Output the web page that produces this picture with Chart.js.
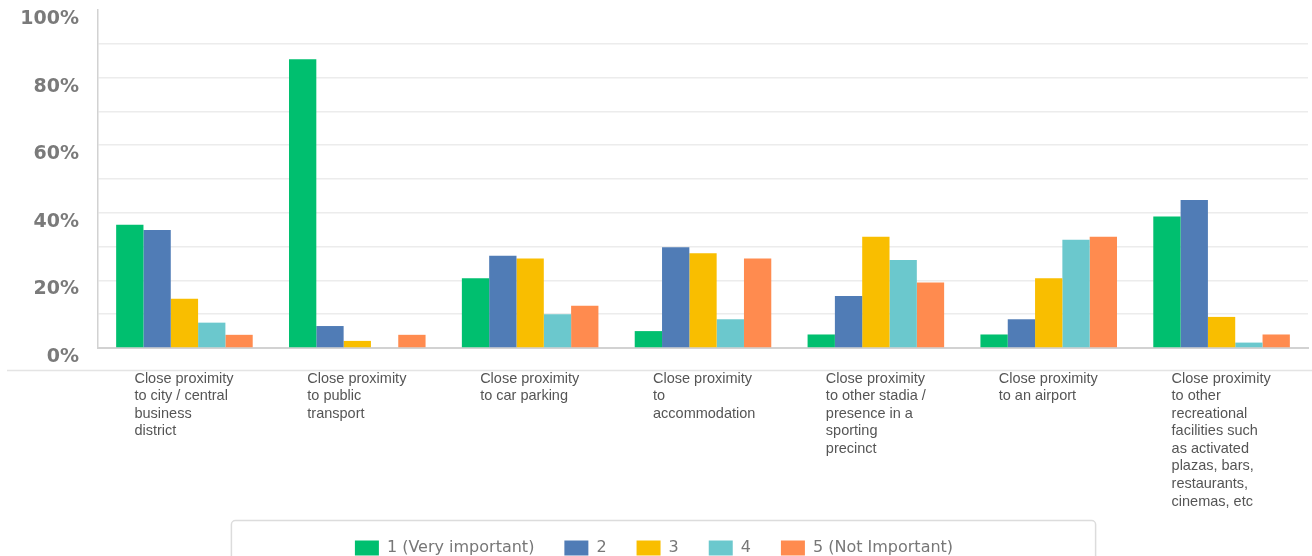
<!DOCTYPE html>
<html>
<head>
<meta charset="utf-8">
<script src="https://cdn.jsdelivr.net/npm/chart.js@4.4.1/dist/chart.umd.min.js"></script>
<style>
  html, body { margin: 0; padding: 0; background: #fff; }
  #wrap { width: 1312px; height: 556px; }
</style>
</head>
<body>
<div id="wrap"><canvas id="chart"></canvas></div>
<script>
const categories = [
  ["Close proximity", "to city / central", "business", "district"],
  ["Close proximity", "to public", "transport"],
  ["Close proximity", "to car parking"],
  ["Close proximity", "to", "accommodation"],
  ["Close proximity", "to other stadia /", "presence in a", "sporting", "precinct"],
  ["Close proximity", "to an airport"],
  ["Close proximity", "to other", "recreational", "facilities such", "as activated", "plazas, bars,", "restaurants,", "cinemas, etc"],
];

const seriesNames = ["1 (Very important)", "2", "3", "4", "5 (Not Important)"];
const seriesColors = ["#00bf6f", "#507cb6", "#f9be00", "#6bc8cd", "#ff8b4f"];

// percent of respondents per rating
const veryImportant = [36.5, 85.4, 20.6, 5.0, 4.0, 4.0, 38.9];
const rating2 = [34.9, 6.5, 27.3, 29.8, 15.4, 8.5, 43.8];
const rating3 = [14.6, 2.1, 26.5, 28.0, 32.9, 20.6, 9.2];
const rating4 = [7.5, 0, 10.0, 8.5, 26.0, 32.0, 1.6];
const notImportant = [3.9, 3.9, 12.5, 26.5, 19.4, 32.9, 4.0];

const yTicks = [0, 20, 40, 60, 80, 100];

const seriesValues = [veryImportant, rating2, rating3, rating4, notImportant];

// separator under the axis + rounded frame around the legend
const framePlugin = {
  id: "frame",
  afterDraw(chart) {
    const { ctx, chartArea, legend } = chart;
    ctx.save();
    ctx.strokeStyle = "#e4e4e4";
    ctx.lineWidth = 1.5;
    ctx.beginPath();
    ctx.moveTo(7, chartArea.bottom + 22.5);
    ctx.lineTo(chart.width, chartArea.bottom + 22.5);
    ctx.stroke();

    const boxes = legend.legendHitBoxes;
    const first = boxes[0];
    const last = boxes[boxes.length - 1];
    const left = first.left - 124;
    const right = last.left + last.width + 142;
    const top = legend.top + 10;
    ctx.strokeStyle = "#dcdcdc";
    ctx.lineWidth = 1.5;
    ctx.beginPath();
    ctx.roundRect(left + 0.5, top + 0.5, right - left, chart.height - top + 10, 4);
    ctx.stroke();
    ctx.restore();
  },
};

new Chart(document.getElementById("chart"), {
  type: "bar",
  data: {
    labels: categories,
    datasets: seriesNames.map((name, i) => ({
      label: name,
      data: seriesValues[i],
      backgroundColor: seriesColors[i],
      borderWidth: 0,
      categoryPercentage: 0.79,
      barPercentage: 1.0,
    })),
  },
  options: {
    responsive: true,
    maintainAspectRatio: false,
    animation: false,
    layout: { padding: { top: 10, right: 4, bottom: -10, left: 0 } },
    plugins: {
      tooltip: { enabled: false },
      legend: {
        position: "bottom",
        labels: {
          boxWidth: 24,
          boxHeight: 15,
          padding: 30,
          color: "#777",
          font: { family: "DejaVu Sans", size: 16 },
        },
      },
    },
    scales: {
      x: {
        afterFit(scale) {
          scale.height = 162;
          scale.paddingLeft = 0;
          scale.paddingRight = 0;
        },
        grid: { display: false, drawTicks: false },
        border: { display: true, color: "#d2d2d2", width: 2 },
        ticks: {
          autoSkip: false,
          maxRotation: 0,
          minRotation: 0,
          align: "start",
          labelOffset: -50,
          padding: 22,
          color: "#555",
          font: { family: "Liberation Sans", size: 14.5, lineHeight: 1.21 },
        },
      },
      y: {
        min: 0,
        max: 100,
        afterFit(scale) {
          scale.width = 98;
          scale.paddingTop = 0;
          scale.paddingBottom = 0;
        },
        grid: {
          drawTicks: false,
          color: (c) => (c.tick && c.tick.value === 100 ? "rgba(0,0,0,0)" : "#ececec"),
          lineWidth: 1.5,
        },
        border: { display: true, color: "#d2d2d2", width: 1.5 },
        ticks: {
          stepSize: 10,
          padding: 19,
          labelOffset: 9,
          color: "#7a7a7a",
          font: { family: "DejaVu Sans", size: 19, weight: "bold" },
          callback: (v) => (yTicks.includes(v) ? v + "%" : ""),
        },
      },
    },
  },
  plugins: [framePlugin],
});
</script>
</body>
</html>
